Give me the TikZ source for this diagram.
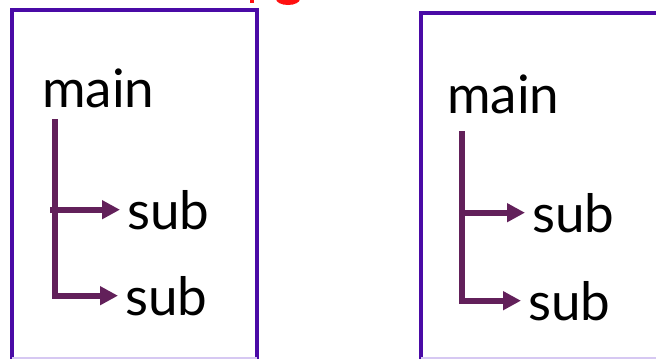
\documentclass[tikz,border=0pt]{standalone}
\usepackage{fontspec}
\setmainfont{Lato}
\usepackage{xcolor}
\usepackage{tikz}
\usetikzlibrary{arrows.meta, positioning, calc}
\definecolor{frameviolet}{HTML}{4A0AA6}
\definecolor{plumdark}{HTML}{62205A}
\definecolor{lavenderedge}{HTML}{D6C8F2}
\definecolor{headred}{HTML}{FF1010}
\tikzset{
  word/.style={font=\fontsize{53}{62}\selectfont, text=black, inner sep=0pt, anchor=base west},
  subword/.style={word, inner xsep=7pt},
  frame/.style={draw=frameviolet, line width=3.4pt},
  branch/.style={-{Triangle[length=18pt, width=18pt]}, line width=6pt, color=plumdark},
}

\begin{document}
\begin{tikzpicture}[x=1pt, y=-1pt]
  \useasboundingbox (0,0) rectangle (656,359);
  % cut-off heading above the frames
  \fill[headred] (250,-2) rectangle (254,3);
  \fill[headred] (288,-1) ellipse (12 and 6);
  % the two frames
  \draw[frame] (12,359) -- (12,10) -- (257,10) -- (257,359);
  \draw[frame] (421,359) -- (421,13) -- (660,13);
  \draw[lavenderedge, line width=1.2pt] (12,358) -- (257,358);
  \draw[lavenderedge, line width=1.2pt] (421,358) -- (656,358);
  % left tree
  \node[word] (mainL) at (42,107) {main};
  \node[subword] (subLa) at (120,229) {sub};
  \node[subword] (subLb) at (118,315) {sub};
  \coordinate (trunkL) at (55,119);
  \draw[branch] (trunkL) |- (subLb);
  \draw[branch] ([xshift=-5pt]trunkL |- subLa.west) -- (subLa);
  % right tree
  \node[word] (mainR) at (447,113) {main};
  \node[subword] (subRa) at (525,232) {sub};
  \node[subword] (subRb) at (521,320) {sub};
  \coordinate (trunkR) at (462,131);
  \draw[branch] (trunkR) |- (subRb);
  \draw[branch] (trunkR |- subRa.west) -- (subRa);
\end{tikzpicture}
\end{document}
